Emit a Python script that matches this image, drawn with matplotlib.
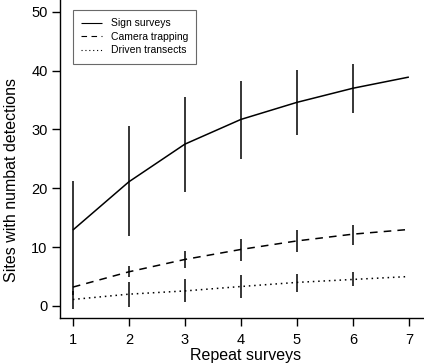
import matplotlib
matplotlib.use("Agg")
import matplotlib.pyplot as plt

plt.rcParams['font.family'] = ['Liberation Sans', 'DejaVu Sans']

repeats = [1, 2, 3, 4, 5, 6, 7]

sign_mean = [12.9, 21.1, 27.5, 31.7, 34.6, 37.0, 38.9]
sign_lo = [4.5, 11.9, 19.4, 25.0, 29.0, 32.8, None]
sign_hi = [21.3, 30.6, 35.5, 38.3, 40.1, 41.1, None]

cam_mean = [3.2, 5.8, 7.9, 9.6, 11.05, 12.2, 13.0]
cam_lo = [1.8, 5.0, 6.4, 7.7, 9.1, 10.4, None]
cam_hi = [4.6, 6.8, 9.35, 11.4, 12.9, 13.8, None]

drv_mean = [1.1, 2.0, 2.55, 3.3, 4.0, 4.5, 5.0]
drv_lo = [-0.6, -0.1, 0.6, 1.4, 2.3, 3.4, None]
drv_hi = [2.6, 4.0, 4.5, 5.3, 5.4, 5.7, None]

labels = ["Sign surveys", "Camera trapping", "Driven transects"]

fig = plt.figure(figsize=(4.24, 3.64), dpi=100)
ax = fig.add_axes([60/424, 46.3/364, 364/424, 317.7/364])

styles = [(0, ()), (0, (5, 4)), (0, (1, 2.5))]
series = [(sign_mean, sign_lo, sign_hi), (cam_mean, cam_lo, cam_hi), (drv_mean, drv_lo, drv_hi)]

for (m, lo, hi), ls, lab in zip(series, styles, labels):
    ax.plot(repeats, m, color='black', lw=1.1, linestyle=ls, label=lab)
    for x, l, h in zip(repeats, lo, hi):
        if l is not None:
            ax.vlines(x, l, h, color='black', lw=1.1)

ax.set_xlim(0.77, 7.27)
ax.set_ylim(-2, 52)
ax.set_xticks(repeats)
ax.set_yticks([0, 10, 20, 30, 40, 50])
for s in ['top', 'right']:
    ax.spines[s].set_visible(False)
for s in ['left', 'bottom']:
    ax.spines[s].set_linewidth(1.0)
ax.tick_params(axis='both', direction='out', length=6, width=1.0, labelsize=10.5)
ax.tick_params(axis='x', pad=5)
ax.tick_params(axis='y', pad=3)
ax.set_xlabel("Repeat surveys", fontsize=11.5)
ax.set_ylabel("Sites with numbat detections", fontsize=11.5)
ax.xaxis.set_label_coords(0.509, -0.095)
ax.yaxis.set_label_coords(-0.112, 0.433)

leg = ax.legend(loc='upper left', bbox_to_anchor=(0.036, 0.969), borderaxespad=0,
                fontsize=7.5, handlelength=2.0, handletextpad=0.8, labelspacing=0.35,
                borderpad=0.8, fancybox=False, frameon=True)
leg.get_frame().set_edgecolor('#444444')
leg.get_frame().set_linewidth(0.8)
for h in leg.get_lines():
    h.set_linewidth(0.8)

fig.savefig("out.png", dpi=100)
